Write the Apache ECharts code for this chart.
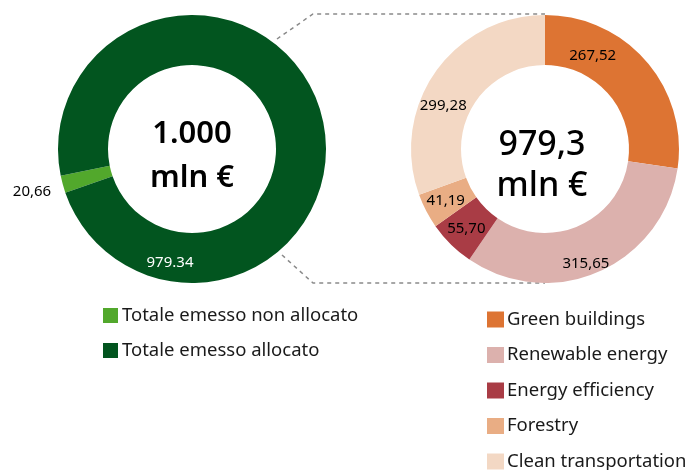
<!DOCTYPE html>
<html>
<head>
<meta charset="utf-8">
<script src="https://cdn.jsdelivr.net/npm/echarts@6/dist/echarts.min.js"></script>
<style>
  html, body { margin: 0; padding: 0; background: #fff; }
  #main { width: 693px; height: 470px; }
</style>
</head>
<body>
<div id="main"></div>
<script>
// left donut: total issued
var leftNames = ['Totale emesso non allocato', 'Totale emesso allocato'];
var leftValues = [20.66, 979.34];
var leftLabels = ['20,66', '979.34'];
var leftColors = ['#52a82c', '#02551f'];

// right donut: allocated by category
var rightNames = ['Green buildings', 'Renewable energy', 'Energy efficiency', 'Forestry', 'Clean transportation'];
var rightValues = [267.52, 315.65, 55.70, 41.19, 299.28];
var rightColors = ['#dd7433', '#dcb1ad', '#a93c45', '#e9ad84', '#f3d8c4'];

var leftTotal = '1.000';
var rightTotal = '979,3';

var fontFam = "'Noto Sans', sans-serif";

function toData(names, values, colors) {
  return names.map(function (n, i) {
    return { name: n, value: values[i], itemStyle: { color: colors[i] } };
  });
}

var chart = echarts.init(document.getElementById('main'));

var option = {
  animation: false,
  textStyle: { fontFamily: fontFam },
  legend: [{
    orient: 'vertical',
    left: 98,
    top: 301,
    height: 160,
    itemWidth: 15,
    itemHeight: 15,
    itemGap: 16,
    icon: 'rect',
    selectedMode: false,
    data: leftNames,
    textStyle: { fontSize: 18.5, color: '#1a1a1a', fontFamily: fontFam, padding: [0, 0, 0, -1] }
  }, {
    orient: 'vertical',
    left: 482,
    top: 305,
    height: 170,
    itemWidth: 17,
    itemHeight: 16,
    itemGap: 16.5,
    icon: 'rect',
    selectedMode: false,
    data: rightNames,
    textStyle: { fontSize: 18.5, color: '#1a1a1a', fontFamily: fontFam, padding: [0, 0, 0, -2] }
  }],
  graphic: [
    // dashed connector between the donuts
    {
      type: 'polyline',
      silent: true,
      shape: { points: [[277, 39], [313, 14], [545, 14]] },
      style: { stroke: '#8a8a8a', lineWidth: 1.5, lineDash: [4, 4], fill: null }
    },
    {
      type: 'polyline',
      silent: true,
      shape: { points: [[282, 255], [313, 283], [545, 283]] },
      style: { stroke: '#8a8a8a', lineWidth: 1.5, lineDash: [4, 4], fill: null }
    },
    // centre totals
    {
      type: 'text', silent: true, z: 100,
      x: 0, y: 0,
      style: {
        text: leftTotal + '\nmln €', x: 192, y: 156,
        align: 'center', verticalAlign: 'middle',
        font: '600 31px ' + fontFam, lineHeight: 44, fill: '#000'
      }
    },
    {
      type: 'text', silent: true, z: 100,
      x: 0, y: 0,
      style: {
        text: rightTotal + '\nmln €', x: 542, y: 166,
        align: 'center', verticalAlign: 'middle',
        font: '500 34px ' + fontFam, lineHeight: 41, fill: '#000'
      }
    }
  ],
  series: [{
    type: 'pie',
    center: [192, 149],
    radius: [84, 134],
    startAngle: 199,
    silent: true,
    labelLine: { show: false },
    label: {
      show: true,
      position: 'inside',
      fontSize: 15,
      color: '#000',
      formatter: function (p) { return leftLabels[p.dataIndex]; }
    },
    labelLayout: function (p) {
      if (p.dataIndex === 0) return { x: 32, y: 192, align: 'center' };
      return { x: 170, y: 263, align: 'center' };
    },
    data: toData(leftNames, leftValues, leftColors).map(function (d, i) {
      if (i === 1) d.label = { color: '#fff', fontSize: 15 };
      return d;
    })
  }, {
    type: 'pie',
    center: [545, 149],
    radius: [84, 134],
    startAngle: 90,
    silent: true,
    labelLine: { show: false },
    label: {
      show: true,
      position: 'inside',
      fontSize: 15,
      color: '#000',
      formatter: function (p) { return p.value.toFixed(2).replace('.', ','); }
    },
    labelLayout: function (p) {
      if (p.dataIndex === 0) return { dx: -37, dy: -20 };
      if (p.dataIndex === 4) return { dx: -10, dy: 21 };
      if (p.dataIndex === 1) return { dx: -4, dy: 12 };
      return {};
    },
    data: toData(rightNames, rightValues, rightColors)
  }]
};

chart.setOption(option);
</script>
</body>
</html>
